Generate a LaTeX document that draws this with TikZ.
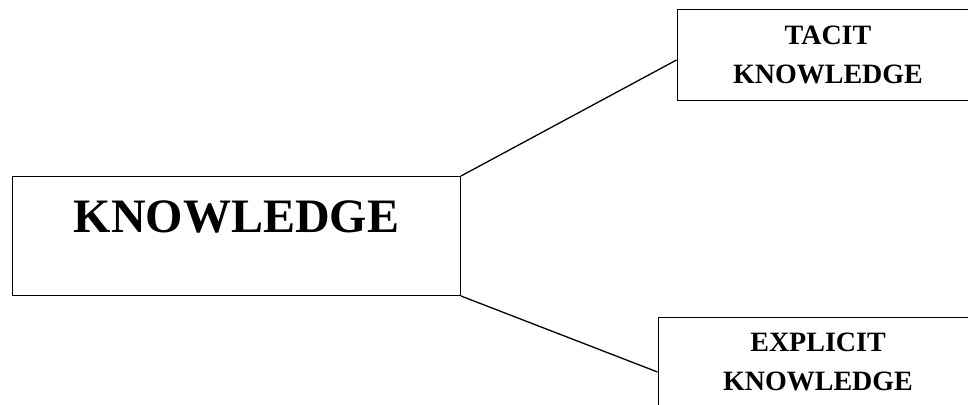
\documentclass[tikz,border=0pt]{standalone}
\usepackage{fontspec}
\setmainfont{Liberation Serif}
\usetikzlibrary{positioning}

\begin{document}
\begin{tikzpicture}[x=1pt,y=-1pt,
  box/.style={draw, line width=1pt, inner sep=0pt},
  mainbox/.style={box, font=\fontsize{48}{56}\selectfont\bfseries,
    minimum width=448pt, text height=56pt, text depth=63pt},
  subbox/.style={box, align=center, font=\fontsize{28}{39}\selectfont\bfseries,
    minimum height=90pt},
  link/.style={line width=1.3pt}]

% ── Frame (page is 968 x 404) ────────────────────────────────
\useasboundingbox (0,0) rectangle (968,404);
\clip (0,0) rectangle (968,404);

% ── Boxes ────────────────────────────────────────────────────
\node[mainbox, anchor=north west] (know) at (12,176) {KNOWLEDGE};
\node[subbox, minimum width=302pt] (tacit) at (828,55) {TACIT\\KNOWLEDGE};
\node[subbox, minimum width=320pt] (expl)  at (818,362) {EXPLICIT\\KNOWLEDGE};

% ── Links ────────────────────────────────────────────────────
\draw[link] (know.north east) -- ([yshift=-5pt]tacit.west);
\draw[link] (know.south east) -- ([yshift=-10pt]expl.west);

\end{tikzpicture}
\end{document}
